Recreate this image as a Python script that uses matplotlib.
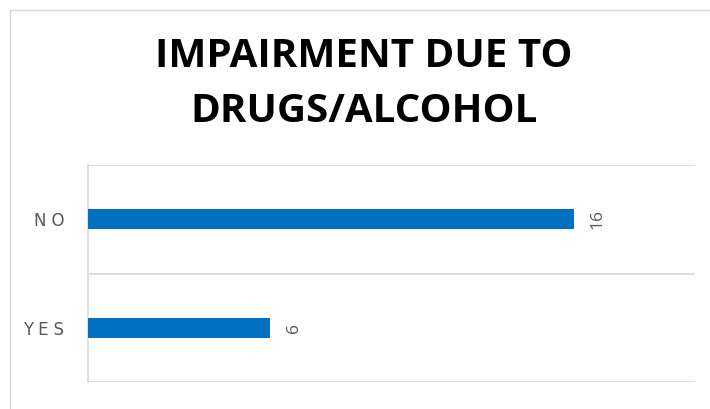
import matplotlib
matplotlib.use("Agg")
import matplotlib.pyplot as plt
from matplotlib.lines import Line2D

categories = ["YES", "NO"]
values = [6, 16]
title = "IMPAIRMENT DUE TO\nDRUGS/ALCOHOL"

bar_color = "#0070C0"
grid_color = "#d9d9d9"
text_gray = "#595959"

fig = plt.figure(figsize=(7.1, 4.09), dpi=100)
ax = fig.add_axes([88 / 710, 1 - 382 / 409, (695 - 88) / 710, (382 - 165) / 409])

ypos = list(range(len(categories)))
ax.barh(ypos, values, height=0.185, color=bar_color, zorder=3)

for y, v in zip(ypos, values):
    ax.text(v + 0.8, y, str(v), rotation=90, ha="center", va="center",
            fontsize=12.5, color=text_gray, family=["Open Sans", "DejaVu Sans"])

ax.set_xlim(0, 20)
ax.set_ylim(-0.5, len(categories) - 0.5)
ax.set_yticks(ypos)
ax.set_yticklabels(["\u2009\u200a".join(c) for c in categories],
                   family=["DejaVu Sans"], fontsize=12, color=text_gray)
ax.set_xticks([])
ax.tick_params(axis="y", length=0, pad=17)

for s in ["top", "right", "bottom"]:
    ax.spines[s].set_visible(False)
ax.spines["left"].set_color(grid_color)
ax.spines["left"].set_linewidth(1.2)
for g in [-0.5, 0.5, 1.5]:
    ax.axhline(g, color=grid_color, lw=1.2, zorder=1)

fig.text(0.513, 1 - 84 / 409, title, ha="center", va="center", fontsize=29,
         fontweight="bold", family="Open Sans", linespacing=1.52, color="black")

# chart border
bx, by = 9.5 / 710, 1 - 10 / 409
fig.add_artist(Line2D([bx, bx], [0, by], color=grid_color, lw=1, transform=fig.transFigure))
fig.add_artist(Line2D([bx, 1], [by, by], color=grid_color, lw=1, transform=fig.transFigure))

fig.savefig("out.png", dpi=100)
